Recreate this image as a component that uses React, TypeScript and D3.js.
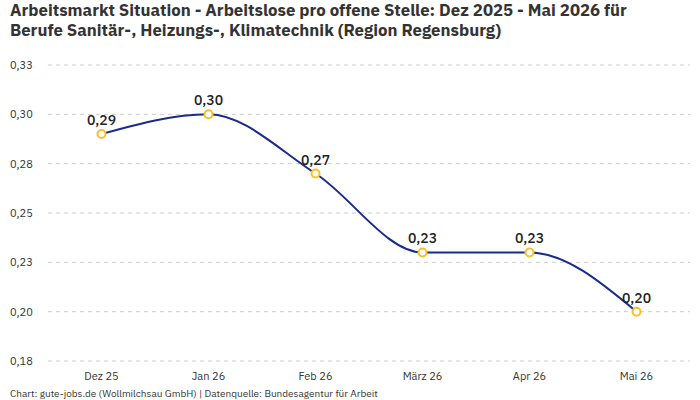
import { useMemo } from 'react';
import * as d3 from 'd3';

// Monthly values: unemployed persons per open position
const MONTHS = ['Dez 25', 'Jan 26', 'Feb 26', 'März 26', 'Apr 26', 'Mai 26'];
const RATIOS = [0.29, 0.30, 0.27, 0.23, 0.23, 0.20];
const Y_TICKS = [0.175, 0.2, 0.225, 0.25, 0.275, 0.3, 0.325];
const Y_TICK_LABELS = ['0,18', '0,20', '0,23', '0,25', '0,28', '0,30', '0,33'];

const TITLE_LINES = [
  'Arbeitsmarkt Situation - Arbeitslose pro offene Stelle: Dez 2025 - Mai 2026 für',
  'Berufe Sanitär-, Heizungs-, Klimatechnik (Region Regensburg)',
];
const SOURCE = 'Chart: gute-jobs.de (Wollmilchsau GmbH) | Datenquelle: Bundesagentur für Arbeit';

const W = 700;
const H = 400;
const FONT = '"IBM Plex Sans", Roboto, "Noto Sans", sans-serif';

const fmt = (v: number) => v.toFixed(2).replace('.', ',');

export default function App() {
  const x = useMemo(() => d3.scalePoint<string>().domain(MONTHS).range([48, 690]).padding(0.5), []);
  const y = useMemo(() => d3.scaleLinear().domain([0.175, 0.325]).range([361, 65]), []);

  const line = d3
    .line<number>()
    .x((_, i) => x(MONTHS[i]) as number)
    .y((d) => y(d))
    .curve(d3.curveMonotoneX);

  return (
    <div style={{ position: 'absolute', left: 0, top: 0 }}>
      <svg width={W} height={H} style={{ display: 'block', fontFamily: FONT }}>
        <rect width={W} height={H} fill="#fff" />

        {TITLE_LINES.map((t, i) => (
          <text key={i} x={10} y={16 + i * 20} fontSize={16.8} fontWeight={700} fill="#333">
            {t}
          </text>
        ))}

        {/* horizontal grid + y labels */}
        {Y_TICKS.map((t, i) => (
          <g key={t}>
            <line x1={48} x2={690} y1={y(t)} y2={y(t)} stroke="#ccc" strokeDasharray="4,4" />
            <text x={10} y={y(t)} dy="0.35em" fontSize={11} fill="#333">
              {Y_TICK_LABELS[i]}
            </text>
          </g>
        ))}

        {/* x labels */}
        {MONTHS.map((m) => (
          <text key={m} x={x(m)} y={376} dy="0.35em" textAnchor="middle" fontSize={11} fill="#333">
            {m}
          </text>
        ))}

        <path d={line(RATIOS) || ''} fill="none" stroke="#1a2b8c" strokeWidth={2} />

        {RATIOS.map((v, i) => (
          <g key={i}>
            <circle cx={x(MONTHS[i])} cy={y(v)} r={4} fill="#fff" stroke="#f7c125" strokeWidth={2} />
            <text x={x(MONTHS[i])} y={y(v) - 9} textAnchor="middle" fontSize={14} fontWeight={500} fill="#222">
              {fmt(v)}
            </text>
          </g>
        ))}

        <text x={10} y={393} dy="0.35em" fontSize={10} fill="#333">
          {SOURCE}
        </text>
      </svg>
    </div>
  );
}
